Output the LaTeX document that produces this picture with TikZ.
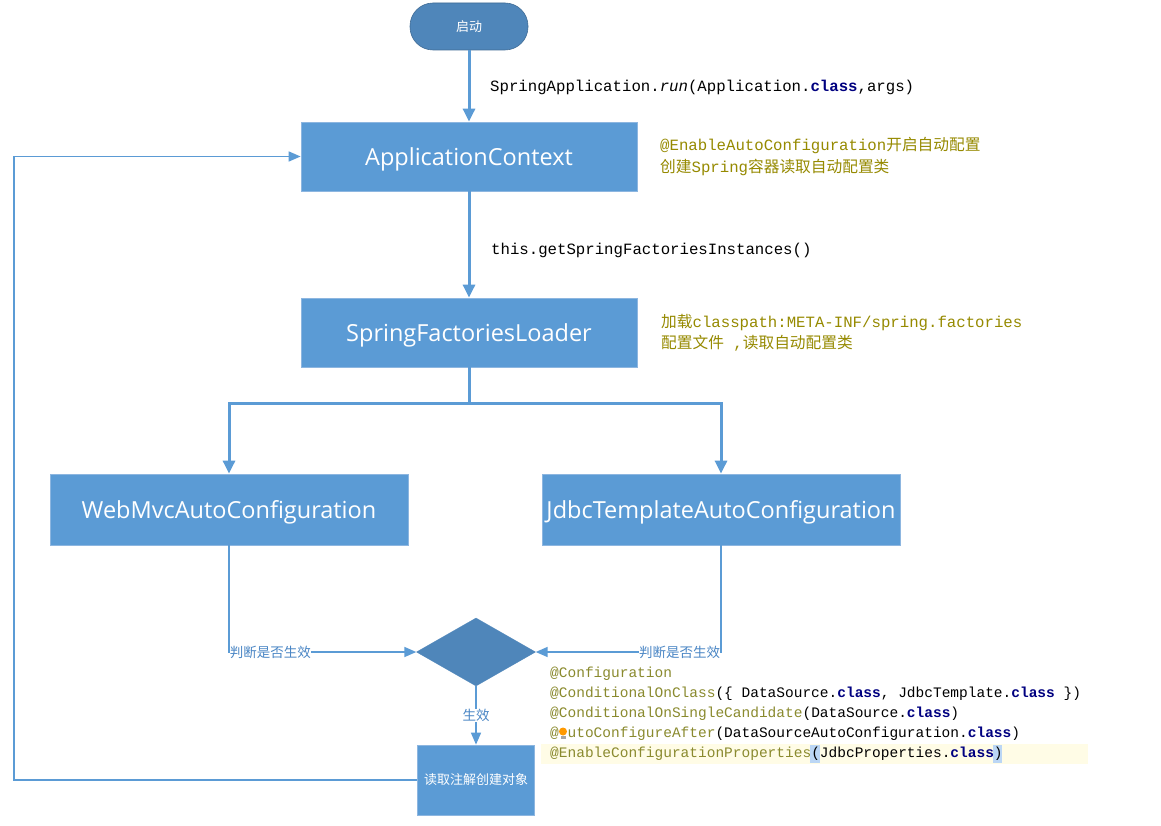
\documentclass[tikz,border=0pt]{standalone}
\usepackage{fontspec}
\setmainfont{Open Sans}
\setmonofont{Liberation Mono}
\newfontfamily\cjk{Noto Sans CJK SC}
\usetikzlibrary{arrows.meta,shapes.geometric}
\definecolor{boxfill}{HTML}{5B9BD5}
\definecolor{boxedge}{HTML}{8DB6E0}
\definecolor{darkfill}{HTML}{4F86BA}
\definecolor{linec}{HTML}{5B9BD5}
\definecolor{lblue}{HTML}{4A86C5}
\definecolor{anno}{HTML}{968A00}
\definecolor{codeanno}{HTML}{8A8A2E}
\definecolor{kw}{HTML}{000080}
\definecolor{hlyellow}{HTML}{FFFCE6}
\definecolor{hlblue}{HTML}{BBD6F5}
\newcommand{\kwc}{\textcolor{kw}{\bfseries class}}
\tikzset{
  box/.style={draw=boxedge, line width=0.8pt, fill=boxfill, text=white, inner sep=0pt, text height=23pt, text depth=5.5pt, font=\fontsize{23.5}{28}\selectfont},
  smallbox/.style={draw=boxedge, line width=0.8pt, fill=boxfill, text=white, inner sep=0pt, font=\cjk\fontsize{13}{16}\selectfont},
  thickarr/.style={draw=linec, line width=3pt, -{Triangle[length=13pt,width=12pt]}},
  thickline/.style={draw=linec, line width=3pt},
  thinarr/.style={draw=linec, line width=1.6pt, -{Triangle[length=12pt,width=10pt]}},
  thinline/.style={draw=linec, line width=1.6pt},
  lbl/.style={text=lblue, font=\cjk\fontsize{13.5}{16}\selectfont, fill=white, inner sep=0pt},
  codelbl/.style={anchor=west, inner sep=0pt, font=\ttfamily\fontsize{15.7}{18}\selectfont},
  annolbl/.style={anchor=west, inner sep=0pt, text=anno, font=\ttfamily\fontsize{15.7}{18}\selectfont},
  snip/.style={anchor=west, inner sep=0pt, font=\ttfamily\fontsize{14.5}{17}\selectfont},
}
\begin{document}
\begin{tikzpicture}[x=1pt,y=-1pt]
\useasboundingbox (0,0) rectangle (1161,826);
\fill[white] (0,0) rectangle (1161,826);

% nodes
\node[draw=darkfill!80!black, line width=0.6pt, fill=darkfill, rounded corners=23pt, minimum width=118pt, minimum height=47pt, inner sep=0pt, text=white, font=\cjk\fontsize{13}{16}\selectfont] (start) at (469,26.5) {启动};
\node[box, minimum width=336pt, minimum height=69pt] (ac) at (469,156.5) {ApplicationContext};
\node[box, minimum width=336pt, minimum height=69pt] (sfl) at (469,332.5) {SpringFactoriesLoader};
\node[box, minimum width=358pt, minimum height=71pt] (web) at (229,509.5) {WebMvcAutoConfiguration};
\node[box, minimum width=358pt, minimum height=71pt] (jdbc) at (721,509.5) {JdbcTemplateAutoConfiguration};
\node[diamond, fill=darkfill, draw=darkfill, minimum width=119pt, minimum height=68pt, inner sep=0pt] (dia) at (476,652) {};
\node[smallbox, minimum width=117pt, minimum height=70pt] (read) at (476,780) {读取注解创建对象};

\coordinate (split) at (469,403);
\coordinate (fb1) at (14,780);

% connectors
\draw[thickarr] (start) -- (ac);
\draw[thickarr] (ac) -- (sfl);
\draw[thickline] (sfl.south) -- (split);
\draw[thickarr] (split) -| (web);
\draw[thickarr] (split) -| (jdbc);
\draw[thinarr] (web) |- (dia) node[pos=0.5, lbl, anchor=west] {判断是否生效};
\draw[thinarr] (jdbc) |- (dia) node[pos=0.5, lbl, anchor=east] {判断是否生效};
\draw[thinarr] (dia) -- (read) node[midway, lbl] {生效};
\draw[thinarr] (read.west) -- (fb1) |- (ac.west);

% labels
\node[codelbl] (l1) at (490,87) {SpringApplication.\textit{run}(Application.\kwc,args)};
\node[codelbl] (l2) at (491,250) {this.getSpringFactoriesInstances()};
\node[annolbl] (a1) at (660,146) {@EnableAutoConfiguration{\cjk 开启自动配置}};
\node[annolbl] (a2) at (660,167) {{\cjk 创建}Spring{\cjk 容器读取自动配置类}};
\node[annolbl] (a3) at (661,323) {{\cjk 加载}classpath:META-INF/spring.factories};
\node[annolbl] (a4) at (661,343) {{\cjk 配置文件} ,{\cjk 读取自动配置类}};

% code snippet
\fill[hlyellow] (541,744) rectangle (1088,764);
\fill[hlblue] (810,745) rectangle (819.5,763);
\fill[hlblue] (993,745) rectangle (1002,763);
\node[snip, text=codeanno] (c1) at (550,674) {@Configuration};
\node[snip] (c2) at (550,694) {\textcolor{codeanno}{@ConditionalOnClass}(\{ DataSource.\kwc, JdbcTemplate.\kwc\ \})};
\node[snip] (c3) at (550,714) {\textcolor{codeanno}{@ConditionalOnSingleCandidate}(DataSource.\kwc)};
\node[snip] (c4) at (550,734) {\textcolor{codeanno}{@\phantom{A}utoConfigureAfter}(DataSourceAutoConfiguration.\kwc)};
\node[snip] (c5) at (550,754) {\textcolor{codeanno}{@EnableConfigurationProperties}(JdbcProperties.\kwc)};
% lightbulb
\fill[orange!80!yellow] (563,731.5) circle (4pt);
\fill[gray!70] (560.5,735.5) rectangle (565.5,739);
\end{tikzpicture}
\end{document}
